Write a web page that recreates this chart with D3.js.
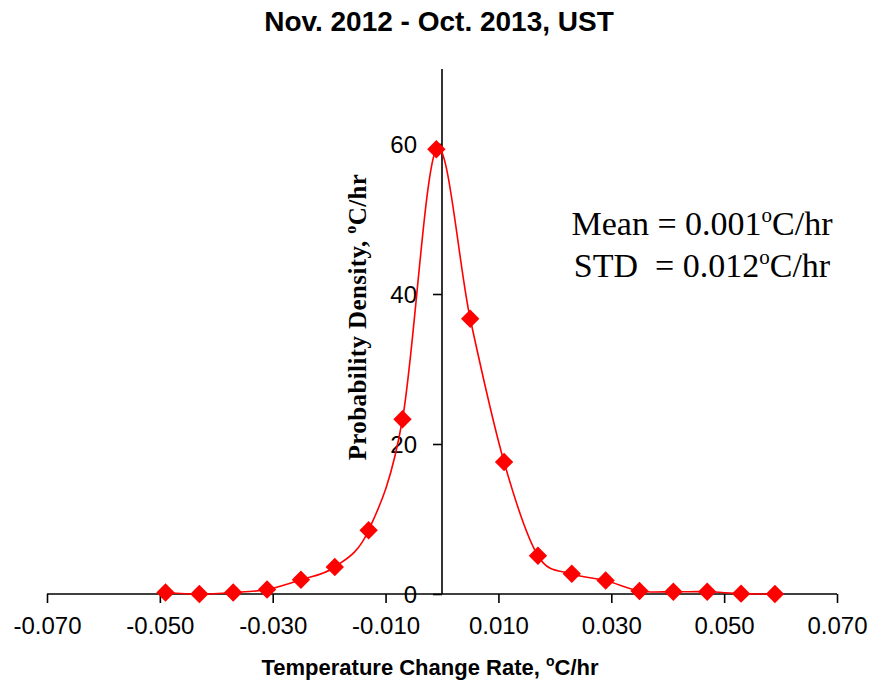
<!DOCTYPE html>
<html>
<head>
<meta charset="utf-8">
<script src="https://cdn.jsdelivr.net/npm/d3@7"></script>
<style>
  body { margin: 0; background: #fff; }
  svg text { fill: #000; }
</style>
</head>
<body>
<div id="chart"></div>
<script>
// rate bins (oC/hr) and probability density
const rates = [-0.049, -0.043, -0.037, -0.031, -0.025, -0.019, -0.013, -0.007, -0.001,
	0.005, 0.011, 0.017, 0.023, 0.029, 0.035, 0.041, 0.047, 0.053, 0.059];
const density = [0.2, 0.0, 0.2, 0.6, 1.9, 3.6, 8.5, 23.3, 59.3,
	36.7, 17.6, 5.1, 2.7, 1.8, 0.4, 0.3, 0.3, 0.05, 0.0];
const xTicks = [-0.07, -0.05, -0.03, -0.01, 0.01, 0.03, 0.05, 0.07];
const yTicks = [0, 20, 40, 60];
const title = "Nov. 2012 - Oct. 2013, UST";
const statLines = [["Mean = 0.001", "C/hr"], ["STD  = 0.012", "C/hr"]];

const width = 872, height = 681;
const margin = {left: 47, right: 35, top: 69, bottom: 87};

const svg = d3.select("#chart").append("svg")
	.attr("width", width)
	.attr("height", height);

const x = d3.scaleLinear()
	.domain([-0.07, 0.07])
	.range([margin.left, width - margin.right]);

const y = d3.scaleLinear()
	.domain([0, 70])
	.range([height - margin.bottom, margin.top]);

// excel style labels, plain hyphen for the minus
const fmt = d => d3.format(".3f")(d).replace("\u2212", "-");

// x axis sits on y = 0
const xAxis = svg.append("g")
	.attr("transform", `translate(0,${y(0)})`)
	.call(d3.axisBottom(x).tickValues(xTicks).tickFormat(fmt).tickSize(9).tickPadding(14));

// y axis crosses at x = 0
const yAxis = svg.append("g")
	.attr("transform", `translate(${x(0)},0)`)
	.call(d3.axisLeft(y).tickValues(yTicks).tickSize(9).tickPadding(16));

[xAxis, yAxis].forEach(g => {
	g.select(".domain").attr("stroke", "#000").attr("stroke-width", 1.6);
	g.selectAll(".tick line").attr("stroke", "#000").attr("stroke-width", 1.6);
	g.selectAll(".tick text")
		.attr("font-family", "Liberation Sans, Arial, sans-serif")
		.attr("font-size", 24)
		.attr("fill", "#000");
});
xAxis.select(".domain").attr("d", `M${x(-0.07)},0H${x(0.07)}`);
yAxis.select(".domain").attr("d", `M0,${y(0)}V${y(70)}`);
yAxis.selectAll(".tick text").attr("dy", "0.35em");
// the "0" of the y axis overlaps the x axis line, as in the picture
xAxis.selectAll(".tick text").attr("dy", "0.71em");

const points = rates.map((r, i) => ({r: r, d: density[i]}));

const line = d3.line()
	.x(d => x(d.r))
	.y(d => y(d.d))
	.curve(d3.curveCardinal.tension(0));

svg.append("path")
	.datum(points)
	.attr("fill", "none")
	.attr("stroke", "#ff0000")
	.attr("stroke-width", 1.6)
	.attr("d", line);

svg.append("g")
	.selectAll("path")
	.data(points).enter()
	.append("path")
	.attr("transform", d => `translate(${x(d.r)},${y(d.d)})`)
	.attr("d", d3.symbol(d3.symbolDiamond2, 215))
	.attr("fill", "#ff0000");

// title
svg.append("text")
	.attr("x", 439)
	.attr("y", 31)
	.attr("text-anchor", "middle")
	.attr("font-family", "Liberation Sans, Arial, sans-serif")
	.attr("font-weight", "bold")
	.attr("font-size", 28)
	.text(title);

// x label
const xl = svg.append("text")
	.attr("x", 430)
	.attr("y", 675)
	.attr("text-anchor", "middle")
	.attr("font-family", "Liberation Sans, Arial, sans-serif")
	.attr("font-weight", "bold")
	.attr("font-size", 22);
xl.append("tspan").text("Temperature Change Rate, ");
xl.append("tspan").attr("font-size", 14).attr("dy", -9).text("o");
xl.append("tspan").attr("dy", 9).text("C/hr");

// y label
const yl = svg.append("text")
	.attr("transform", "translate(366,317) rotate(-90)")
	.attr("text-anchor", "middle")
	.attr("font-family", "Liberation Serif, Times New Roman, serif")
	.attr("font-weight", "bold")
	.attr("font-size", 25)
	.attr("letter-spacing", 0.4);
yl.append("tspan").text("Probability Density, ");
yl.append("tspan").attr("font-size", 16).attr("dy", -10).text("o");
yl.append("tspan").attr("dy", 10).text("C/hr");

// mean / std note
const note = svg.append("g")
	.attr("font-family", "Liberation Serif, Times New Roman, serif")
	.attr("font-size", 34);
statLines.forEach((s, i) => {
	const t = note.append("text")
		.attr("x", 702)
		.attr("y", 235 + i * 42)
		.attr("text-anchor", "middle")
		.attr("xml:space", "preserve");
	t.append("tspan").text(s[0]);
	t.append("tspan").attr("font-size", 21).attr("dy", -13).text("o");
	t.append("tspan").attr("dy", 13).text(s[1]);
});
</script>
</body>
</html>
